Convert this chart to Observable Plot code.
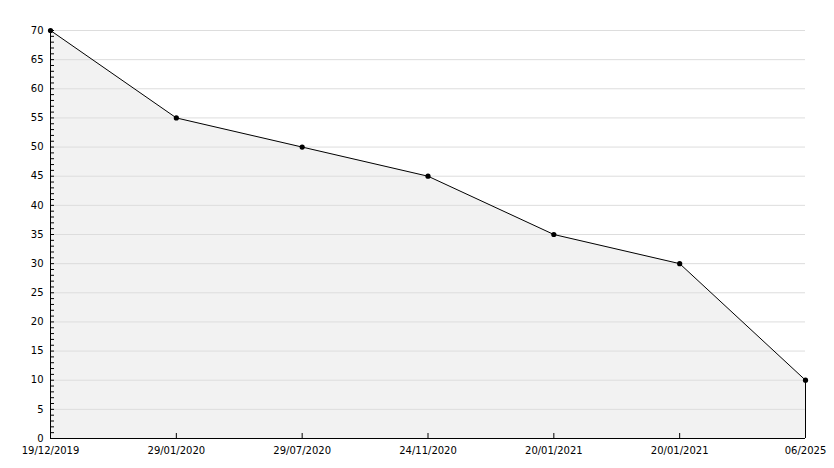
<!DOCTYPE html>
<html>
<head>
<meta charset="utf-8">
<script src="https://cdn.jsdelivr.net/npm/d3@7"></script>
<script src="https://cdn.jsdelivr.net/npm/@observablehq/plot@0.6"></script>
<style>
  html, body { margin: 0; padding: 0; background: #fff; }
  svg { display: block; }
</style>
</head>
<body>
<div id="chart"></div>
<script>
const labels = ["19/12/2019", "29/01/2020", "29/07/2020", "24/11/2020", "20/01/2021", "20/01/2021", "06/2025"];
const values = [70, 55, 50, 45, 35, 30, 10];
const yMajor = d3.range(0, 71, 5);
const yMinor = d3.range(0, 71, 1);

const data = values.map((v, i) => ({i, v}));
const last = data[data.length - 1];

const chart = Plot.plot({
  width: 834,
  height: 468,
  marginTop: 30,
  marginBottom: 30,
  marginLeft: 50,
  marginRight: 29,
  style: {fontFamily: "DejaVu Sans", fontSize: "10px", color: "#000", background: "#fff"},
  x: {type: "linear", domain: [0, labels.length - 1], axis: null, label: null},
  y: {type: "linear", domain: [0, 70], axis: null, label: null},
  marks: [
    Plot.areaY(data, {x: "i", y: "v", fill: "#f2f2f2"}),
    Plot.ruleY(yMajor.filter(d => d > 0), {stroke: "#dddddd", strokeWidth: 1}),
    Plot.line(data, {x: "i", y: "v", stroke: "#000", strokeWidth: 1}),
    Plot.ruleX([last], {x: "i", y1: 0, y2: "v", stroke: "#000"}),
    Plot.ruleX([0], {stroke: "#000"}),
    Plot.ruleY([0], {stroke: "#000"}),
    Plot.axisY({ticks: yMinor, tickSize: 4, dx: 4, tickFormat: () => "", label: null, stroke: "#000", strokeOpacity: 1}),
    Plot.axisY({ticks: yMajor, tickSize: 0, tickPadding: 7, label: null, fill: "#000"}),
    Plot.axisX({ticks: d3.range(labels.length), tickSize: 5, dy: -5, tickFormat: () => "", label: null, stroke: "#000", strokeOpacity: 1}),
    Plot.axisX({ticks: d3.range(labels.length), tickSize: 0, tickPadding: 8, label: null, tickFormat: i => labels[i], fill: "#000"}),
    Plot.dot(data, {x: "i", y: "v", r: 2.6, fill: "#000"})
  ]
});

document.getElementById("chart").appendChild(chart);
</script>
</body>
</html>
